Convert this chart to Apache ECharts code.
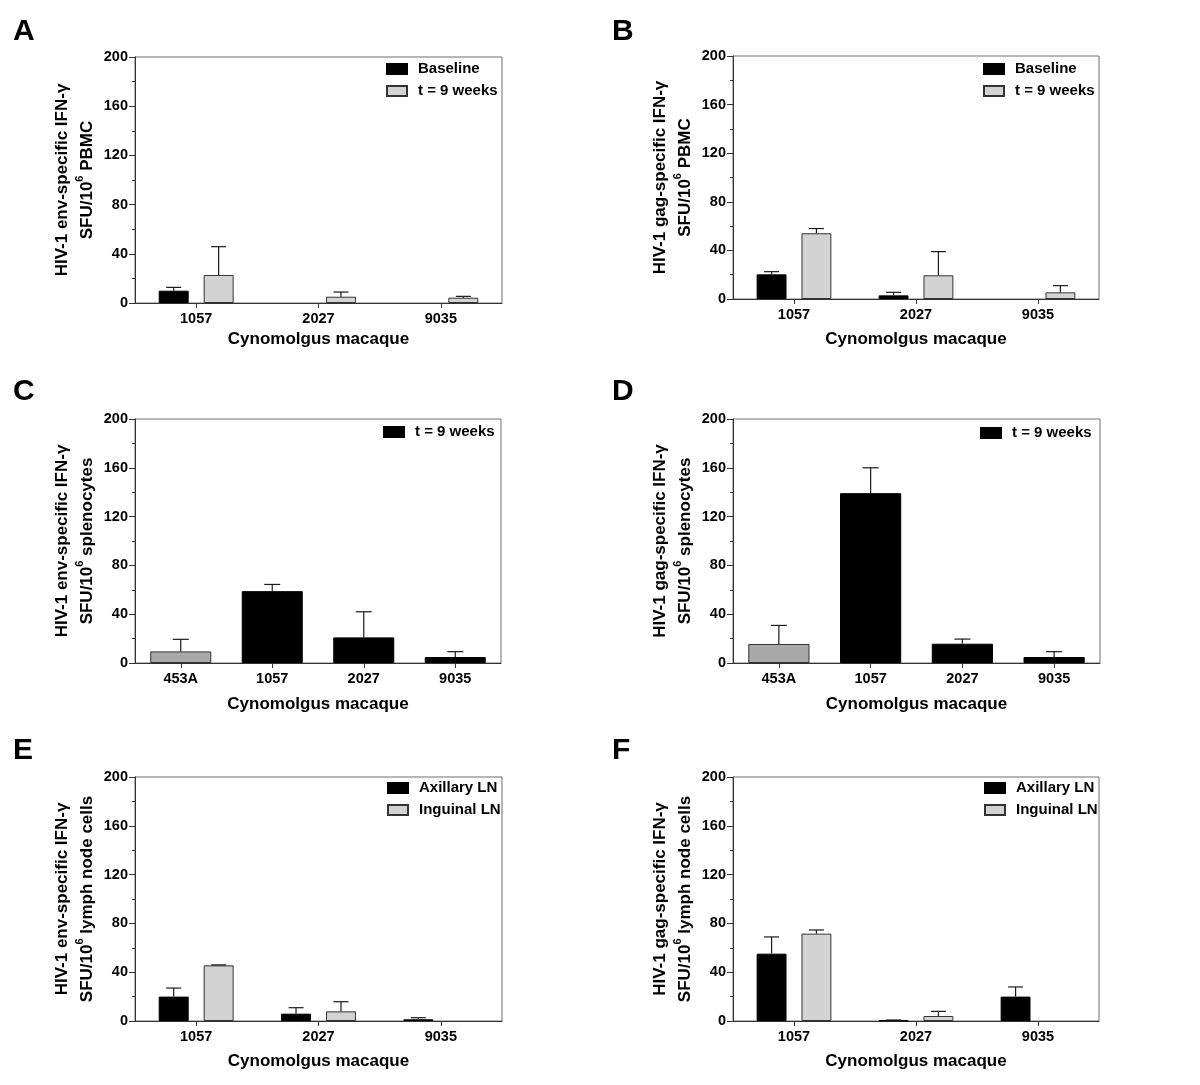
<!DOCTYPE html>
<html><head><meta charset="utf-8">
<script src="https://cdn.jsdelivr.net/npm/echarts@6/dist/echarts.min.js"></script>
<style>html,body{margin:0;padding:0;background:#fff}#c{width:1200px;height:1085px}</style>
</head><body><div id="c"></div>
<script>
// ---- data ----
const cats3 = ['1057', '2027', '9035'];
const cats4 = ['453A', '1057', '2027', '9035'];
const yTicks = [0, 40, 80, 120, 160, 200];

// A: env, PBMC
const A_baseline = [10, null, null];
const A_baseline_err = [2.7, null, null];
const A_t9 = [22.8, 5.1, 4.3];
const A_t9_err = [23, 3.8, 1.1];
// B: gag, PBMC
const B_baseline = [20.3, 3, null];
const B_baseline_err = [2.2, 2.5, null];
const B_t9 = [54.1, 19.5, 5.5];
const B_t9_err = [3.9, 19.5, 5.5];
// C: env, splenocytes
const C_t9 = [9.5, 58.9, 21, 4.9];
const C_t9_err = [9.9, 5.5, 21, 4.4];
// D: gag, splenocytes
const D_t9 = [15.6, 139.2, 15.8, 4.9];
const D_t9_err = [15.2, 20.8, 3.8, 4.4];
// E: env, lymph nodes
const E_axillary = [20, 6, 1.4];
const E_axillary_err = [7, 4.9, 1.3];
const E_inguinal = [45.6, 7.9, null];
const E_inguinal_err = [0.4, 7.9, null];
// F: gag, lymph nodes
const F_axillary = [55.2, 0.5, 20];
const F_axillary_err = [13.7, 0.3, 7.9];
const F_inguinal = [71.6, 4.1, null];
const F_inguinal_err = [3, 3.8, null];

const FONT = "'Liberation Sans', Arial, sans-serif";
const BLACK = '#000000', LIGHT = '#d3d3d3', MID = '#a9a9a9';

const panels = [
  {letter:'A', lx:13, ly:33, grid:{left:135, right:698, top:57, bottom:782}, cats:cats3,
   yl1:'HIV-1 env-specific IFN-γ', yl2:' PBMC', xGap:28, legend:{left:386, top:61},
   series:[{name:'Baseline', data:A_baseline, err:A_baseline_err, color:BLACK},
           {name:'t = 9 weeks', data:A_t9, err:A_t9_err, color:LIGHT}]},
  {letter:'B', lx:612, ly:33, grid:{left:733, right:101, top:56, bottom:786}, cats:cats3,
   yl1:'HIV-1 gag-specific IFN-γ', yl2:' PBMC', xGap:32, legend:{left:983, top:61},
   series:[{name:'Baseline', data:B_baseline, err:B_baseline_err, color:BLACK},
           {name:'t = 9 weeks', data:B_t9, err:B_t9_err, color:LIGHT}]},
  {letter:'C', lx:13, ly:393, grid:{left:135, right:699, top:419, bottom:422}, cats:cats4,
   yl1:'HIV-1 env-specific IFN-γ', yl2:' splenocytes', xGap:33, legend:{left:383, top:424},
   series:[{name:'t = 9 weeks', data:C_t9, err:C_t9_err, color:BLACK, first:MID}]},
  {letter:'D', lx:612, ly:393, grid:{left:733, right:100, top:419, bottom:422}, cats:cats4,
   yl1:'HIV-1 gag-specific IFN-γ', yl2:' splenocytes', xGap:33, legend:{left:980, top:425},
   series:[{name:'t = 9 weeks', data:D_t9, err:D_t9_err, color:BLACK, first:MID}]},
  {letter:'E', lx:13, ly:752, grid:{left:135, right:698, top:777, bottom:64}, cats:cats3,
   yl1:'HIV-1 env-specific IFN-γ', yl2:' lymph node cells', xGap:32, legend:{left:387, top:780},
   series:[{name:'Axillary LN', data:E_axillary, err:E_axillary_err, color:BLACK},
           {name:'Inguinal LN', data:E_inguinal, err:E_inguinal_err, color:LIGHT}]},
  {letter:'F', lx:612, ly:752, grid:{left:733, right:101, top:777, bottom:64}, cats:cats3,
   yl1:'HIV-1 gag-specific IFN-γ', yl2:' lymph node cells', xGap:32, legend:{left:984, top:780},
   series:[{name:'Axillary LN', data:F_axillary, err:F_axillary_err, color:BLACK},
           {name:'Inguinal LN', data:F_inguinal, err:F_inguinal_err, color:LIGHT}]}
];

function errRender(nSeries, idx, widthFrac, gapFrac, capHalf) {
  return function (params, api) {
    const cat = api.value(0), val = api.value(1), top = api.value(2);
    const band = api.size([1, 0])[0];
    const bw = band * widthFrac;
    let off = 0;
    if (nSeries === 2) off = (idx === 0 ? -1 : 1) * (bw / 2 + bw * gapFrac / 2);
    const p0 = api.coord([cat, val]);
    const p1 = api.coord([cat, top]);
    const x = p0[0] + off;
    const st = {stroke:'#1a1a1a', lineWidth:1.2};
    return {type:'group', children:[
      {type:'line', shape:{x1:x, y1:p0[1], x2:x, y2:p1[1]}, style:st},
      {type:'line', shape:{x1:x - capHalf, y1:p1[1], x2:x + capHalf, y2:p1[1]}, style:st}
    ]};
  };
}

const option = {
  backgroundColor:'#fff', animation:false,
  textStyle:{fontFamily:FONT},
  grid:[], xAxis:[], yAxis:[], series:[], legend:[], graphic:[]
};

panels.forEach((p, gi) => {
  option.grid.push(Object.assign({show:true, borderColor:'#6e6e6e', borderWidth:1, backgroundColor:'transparent'}, p.grid));
  option.xAxis.push({
    type:'category', gridIndex:gi, data:p.cats,
    name:'Cynomolgus macaque', nameLocation:'middle', nameGap:p.xGap,
    nameTextStyle:{fontSize:17, fontWeight:'bold', color:'#000', fontFamily:FONT},
    axisLine:{lineStyle:{color:'#333', width:1}},
    axisTick:{show:true, alignWithLabel:true, length:5, lineStyle:{color:'#333'}},
    axisLabel:{fontSize:14.5, fontWeight:'bold', color:'#000', margin:8, fontFamily:FONT},
    splitLine:{show:false}
  });
  option.yAxis.push({
    type:'value', gridIndex:gi, min:0, max:200, interval:40,
    name:'{n|' + p.yl1 + '}\n{n|SFU/10}{s|6}{n|' + p.yl2 + '}',
    nameLocation:'middle', nameGap:33, nameRotate:90,
    nameTextStyle:{fontFamily:FONT, color:'#000', align:'center',
      rich:{n:{fontSize:17, fontWeight:'bold', color:'#000', lineHeight:25, fontFamily:FONT},
            s:{fontSize:11, fontWeight:'bold', color:'#000', lineHeight:25, verticalAlign:'top', padding:[0,0,14,0], fontFamily:FONT}}},
    axisLine:{show:true, lineStyle:{color:'#333', width:1}},
    axisTick:{show:true, length:6, lineStyle:{color:'#333'}},
    minorTick:{show:true, splitNumber:2, length:3, lineStyle:{color:'#333'}},
    axisLabel:{fontSize:14.5, fontWeight:'bold', color:'#000', margin:7, fontFamily:FONT,
      formatter: v => yTicks.indexOf(v) >= 0 ? String(v) : ''},
    splitLine:{show:false}
  });
  const n = p.series.length;
  const widthFrac = n === 2 ? 0.245 : 0.667;
  const legendNames = [];
  p.series.forEach((s, si) => {
    const sname = p.letter + '|' + s.name;
    legendNames.push(sname);
    const data = s.data.map((v, i) => {
      if (v === null) return null;
      if (i === 0 && s.first) return {value:v, itemStyle:{color:s.first, borderColor:'#333', borderWidth:1}};
      return v;
    });
    option.series.push({
      type:'bar', name:sname, xAxisIndex:gi, yAxisIndex:gi, data:data,
      barWidth:(widthFrac * 100) + '%', barGap:'50%',
      itemStyle:{color:s.color, borderColor: s.color === BLACK ? '#000' : '#333', borderWidth:1},
      emphasis:{disabled:true}, z:2
    });
    const errData = [];
    s.data.forEach((v, i) => { if (v !== null && s.err[i] !== null) errData.push([i, v, v + s.err[i]]); });
    option.series.push({
      type:'custom', name:'err-' + sname, xAxisIndex:gi, yAxisIndex:gi, data:errData,
      renderItem: errRender(n, si, widthFrac, 0.5, n === 2 ? 7.5 : 8), z:3, silent:true
    });
  });
  option.legend.push({
    data:legendNames.map(nm => ({name:nm, icon:'rect'})), orient:'vertical', left:p.legend.left, top:p.legend.top,
    padding:0, itemGap:6, itemWidth:20, itemHeight:10, align:'left',
    selectedMode:false,
    formatter: name => name.split('|')[1],
    textStyle:{fontSize:15, fontWeight:'bold', color:'#000', lineHeight:16, padding:[0,0,0,6], fontFamily:FONT}
  });
  option.graphic.push({type:'text', left:p.lx, top:p.ly - 16,
    style:{text:p.letter, fontSize:30, fontWeight:'bold', fill:'#000', fontFamily:FONT}});
});

const chart = echarts.init(document.getElementById('c'), null, {renderer:'canvas'});
chart.setOption(option);
</script></body></html>
